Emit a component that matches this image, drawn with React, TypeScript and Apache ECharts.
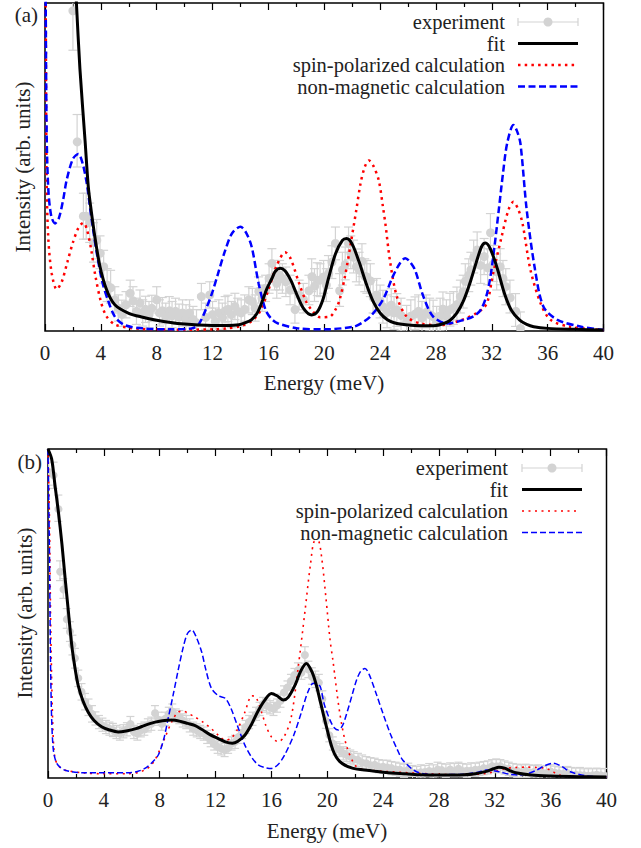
import React, { useEffect, useRef } from "react";
import * as echarts from "echarts";

// ---------------- DATA ----------------
const legendLabels = ["experiment", "fit", "spin-polarized calculation", "non-magnetic calculation"];
const xTitle = "Energy (meV)";
const yTitle = "Intensity (arb. units)";
const panelLabels = ["(a)", "(b)"];

// Panel (a): experiment [E, I, err]
const expA = [
  [2.0, 97.6, 12], [2.3, 58, 8], [2.75, 35, 7], [2.95, 35, 7], [3.2, 33, 6], [3.47, 27, 6], [3.7, 28, 6],
  [3.94, 24, 5], [4.2, 19.6, 5], [4.45, 14, 5], [4.7, 13.5, 5], [5.0, 9.5, 4], [5.25, 7, 4], [5.5, 5.4, 4],
  [5.8, 8, 4], [6.1, 11.5, 4], [6.3, 9.5, 4], [6.55, 6, 4], [6.8, 8.5, 4], [7.0, 5.5, 4], [7.2, 6.6, 4],
  [7.45, 5, 4], [7.65, 6.9, 4], [8.0, 9.5, 4], [8.2, 5.5, 4], [8.4, 6.2, 4], [8.65, 4.5, 4], [8.9, 6.5, 4],
  [9.1, 5, 4], [9.35, 6, 4], [9.6, 4.2, 4], [9.85, 5.5, 4], [10.1, 4, 4], [10.35, 5.5, 4], [10.6, 3.5, 4],
  [10.85, 2.5, 4], [11.2, 10.5, 4], [11.5, 4.5, 4], [11.8, 11, 4], [12.0, 5, 4], [12.2, 3, 4], [12.45, 5.5, 4],
  [12.7, 4.5, 4], [12.9, 6.5, 4], [13.1, 6.9, 4], [13.35, 5, 4], [13.6, 7.5, 4], [13.8, 6, 4], [14.05, 5.5, 4],
  [14.3, 7, 4], [14.6, 9.5, 4], [14.85, 9, 4], [15.05, 7, 4], [15.3, 12.5, 4], [15.55, 10, 4], [15.8, 13, 4],
  [16.05, 16, 4.5], [16.25, 20.6, 4.5], [16.45, 17, 4.5], [16.6, 14.5, 4.5], [16.8, 17, 4.5], [17.0, 16, 4.5],
  [17.25, 15, 4.5], [17.55, 12.5, 4.5], [17.9, 6.9, 4.5], [18.2, 11, 4.5], [18.5, 10, 4.5], [18.9, 12.5, 4.5],
  [19.1, 17, 5], [19.3, 14, 5], [19.5, 15.8, 5], [19.7, 15.5, 5], [19.95, 16.5, 5], [20.15, 14, 5], [20.3, 18, 5],
  [20.55, 21, 5], [20.8, 26.7, 5], [21.1, 12.5, 5], [21.3, 19, 5], [21.5, 20.6, 5], [21.74, 26.7, 5], [21.9, 24, 5],
  [22.1, 22.7, 5], [22.3, 20, 5], [22.5, 19, 5], [22.7, 21.6, 5], [22.9, 17, 5], [23.05, 16.5, 5], [23.3, 15.5, 5],
  [23.5, 10.5, 5], [23.75, 11, 5], [24.0, 9, 5], [24.2, 7.4, 5], [24.5, 6, 5], [24.8, 7.9, 5], [25.0, 5.5, 5],
  [25.2, 6.4, 5], [25.5, 5, 5], [25.9, 2.8, 5], [26.2, 4.5, 5], [26.5, 5.4, 5], [26.75, 6, 5], [27.0, 4, 5],
  [27.3, 6, 5], [27.55, 5, 5], [27.8, 4.4, 5], [28.05, 2.5, 5], [28.3, 5, 5], [28.5, 6.9, 5], [28.75, 4.5, 5],
  [29.0, 6.5, 5], [29.25, 7, 5], [29.5, 8.4, 5], [29.75, 10.5, 5], [29.95, 12, 5], [30.1, 15.5, 5], [30.35, 17, 5],
  [30.5, 19, 5], [30.7, 22.7, 5], [30.95, 24.7, 5.5], [31.2, 20, 5.5], [31.45, 22.7, 5.5], [31.7, 19.6, 5.5],
  [31.9, 30.3, 5.5], [32.1, 20.6, 5.5], [32.35, 18, 5.5], [32.6, 19.6, 5.5], [32.8, 16, 5.5], [33.0, 13.5, 5.5],
  [33.3, 10.5, 5], [33.7, 6.4, 5], [34.05, 0.8, 5],
];

const fitA = [
  [1.5, 175], [1.8, 140], [2.0, 120], [2.25, 100], [2.5, 80], [2.87, 58], [3.1, 44], [3.3, 37], [3.58, 28.5],
  [3.94, 19.6], [4.42, 12.5], [5.0, 8], [6.0, 5.4], [7.0, 4.2], [8.0, 3.3], [9.0, 2.6], [10.0, 2.1], [11.0, 1.8],
  [12.0, 1.7], [13.0, 1.7], [13.9, 1.9], [14.4, 2.6], [14.8, 3.5], [15.2, 5.5], [15.5, 8.4], [15.9, 13],
  [16.25, 16], [16.5, 18.2], [16.85, 19.1], [17.2, 18.3], [17.6, 15.5], [18.0, 11.5], [18.5, 7], [19.1, 4.9],
  [19.5, 5.8], [19.9, 9.5], [20.3, 16], [20.8, 23.5], [21.3, 27.6], [21.6, 28.2], [22.0, 26.5], [22.5, 21],
  [23.0, 14.5], [23.5, 9], [24.0, 5.5], [24.5, 3.5], [25.0, 2.5], [26.0, 1.8], [27.0, 1.6], [28.0, 1.7],
  [28.5, 2.2], [29.0, 3.2], [29.5, 5.5], [30.0, 9.5], [30.5, 15.5], [31.0, 22.5], [31.3, 26], [31.55, 26.8],
  [31.9, 25], [32.4, 19], [32.9, 11.5], [33.4, 6.3], [34.0, 3.3], [34.5, 2.0], [35.0, 1.3], [36.0, 0.8],
  [38.0, 0.5], [40.0, 0.3],
];

const spinA = [
  [0, 130], [0.05, 100], [0.12, 45], [0.24, 28], [0.48, 17.6], [0.84, 12.7], [1.2, 15], [1.6, 21], [2.0, 27],
  [2.4, 31.5], [2.75, 33], [3.0, 31], [3.3, 25], [3.6, 17], [4.0, 9], [4.4, 4.5], [5.0, 2], [6.0, 1], [7.0, 0.6],
  [8.0, 0.5], [10.0, 0.4], [12.0, 0.5], [13.0, 0.8], [14.0, 1.5], [14.8, 3], [15.4, 6], [16.0, 12.5],
  [16.6, 20], [17.2, 24], [17.6, 22], [18.2, 14.5], [18.7, 9], [19.1, 6.4], [19.7, 4.2], [20.4, 4.4],
  [20.8, 6.5], [21.1, 9.5], [21.5, 17], [21.9, 26.7], [22.3, 37], [22.6, 45], [22.9, 50], [23.2, 52],
  [23.5, 50.5], [23.9, 46], [24.2, 38], [24.4, 32], [24.7, 21.6], [25.2, 10.5], [25.9, 4.4], [26.9, 2.3],
  [28.3, 1.8], [29.75, 3.2], [30.9, 5.4], [31.4, 7], [31.7, 9], [32.1, 17.6], [32.7, 28.7], [33.2, 37],
  [33.55, 39.4], [33.9, 37], [34.2, 32.8], [34.77, 18.6], [35.5, 8.4], [36.2, 3.4], [37.6, 1.3], [40.0, 0.3],
];

const nonMagA = [
  [0, 130], [0.05, 100], [0.12, 60], [0.24, 43], [0.45, 35], [0.72, 32.8], [1.0, 34.5], [1.3, 40], [1.55, 46],
  [2.0, 52.5], [2.39, 54], [2.7, 51], [2.99, 45], [3.34, 34], [3.7, 24], [4.1, 15], [4.5, 9.5], [5.0, 4.4],
  [5.7, 1.8], [7.0, 0.8], [9.0, 0.5], [10.5, 0.8], [11.0, 2], [11.5, 6.4], [12.0, 12], [12.4, 17.6],
  [12.9, 24.5], [13.4, 29.8], [14.0, 31.8], [14.4, 30], [14.8, 25.7], [15.3, 14.5], [15.8, 6.4], [16.2, 3.8],
  [16.7, 2.3], [18.1, 0.8], [20.0, 0.5], [22.1, 1.3], [22.7, 2.5], [23.3, 4.4], [24.2, 9.5], [24.9, 16.5],
  [25.4, 20.5], [25.8, 22.2], [26.1, 21.3], [26.5, 18.6], [27.1, 10.5], [27.8, 4.4], [28.8, 2.3], [30.0, 3.4],
  [30.7, 4.5], [31.2, 6.4], [31.6, 10.5], [31.9, 16.5], [32.2, 26], [32.5, 36.9], [32.8, 48], [33.1, 57.2],
  [33.55, 62.8], [33.8, 61], [34.05, 57.2], [34.5, 36.9], [35.1, 18.6], [35.7, 7.4], [36.7, 3.4], [38.4, 1.3],
  [40.0, 0.3],
];

// Panel (b)
const expB = [
  [0.05, 93, 4], [0.4, 92, 4], [0.74, 82, 4], [0.86, 63, 3], [1.1, 57.6, 3], [1.34, 48.5, 3], [1.57, 44.5, 3],
  [1.75, 40.4, 3], [1.93, 36.4, 3], [2.17, 30.3, 2.5], [2.4, 26.2, 2.5], [2.65, 23.2, 2.5], [2.9, 21.5, 2.5],
  [3.15, 19.5, 2.5], [3.4, 18.1, 2], [3.65, 17, 2], [3.9, 16.2, 2], [4.15, 15.5, 2], [4.4, 15, 2], [4.65, 14.6, 2],
  [4.9, 14, 2], [5.15, 13.5, 2], [5.4, 14.2, 2], [5.65, 14.8, 2], [5.9, 16.7, 2], [6.15, 14, 2], [6.4, 13.5, 2],
  [6.65, 14.5, 2], [6.9, 15, 2], [7.15, 16, 2], [7.4, 16.5, 2], [7.66, 20, 2], [7.9, 18, 2], [8.15, 16.5, 2],
  [8.4, 18, 2], [8.65, 19.5, 2], [8.9, 20.5, 2], [9.15, 19, 2], [9.4, 18.5, 2], [9.65, 17.5, 2], [9.9, 17, 2],
  [10.15, 16, 2], [10.4, 15, 2], [10.65, 14.5, 2], [10.9, 14, 2], [11.15, 13.5, 2], [11.4, 12.5, 2],
  [11.65, 11.5, 2], [11.9, 10.5, 2], [12.15, 9.5, 2], [12.4, 9, 2], [12.65, 8.5, 2], [12.9, 9.5, 2],
  [13.15, 10.5, 2], [13.4, 11, 2], [13.65, 12.5, 2], [13.9, 14, 2], [14.15, 15.5, 2], [14.4, 17, 2],
  [14.65, 18, 2], [14.9, 19.5, 2], [15.15, 21, 2], [15.4, 22.5, 2], [15.65, 22, 2], [15.9, 21.5, 2],
  [16.15, 21, 2], [16.4, 22, 2], [16.65, 23.5, 2], [16.9, 26, 2], [17.15, 27.5, 2], [17.4, 29.5, 2],
  [17.65, 31.3, 2], [17.9, 33, 2], [18.15, 32, 2], [18.4, 37.4, 2.5], [18.65, 33, 2.5], [18.9, 31, 2.5],
  [19.15, 30, 2.5], [19.4, 29, 2.5], [19.65, 24, 2.5], [19.9, 17.6, 2.5], [20.15, 13, 2], [20.4, 10.5, 2],
  [20.65, 9, 2], [20.9, 8.5, 2], [21.15, 7.5, 2], [21.4, 7, 2], [21.65, 6.5, 2], [21.9, 6, 2], [22.2, 5.5, 2],
  [22.5, 5, 2], [22.8, 4.5, 2], [23.1, 4.2, 2], [23.4, 4, 2], [23.7, 3.6, 2], [24.0, 3.4, 2], [24.3, 3.4, 2],
  [24.6, 3, 2], [24.9, 2.8, 2], [25.2, 2.5, 2], [25.5, 2.2, 2], [25.8, 2.5, 2], [26.1, 1.8, 2], [26.4, 1.5, 2],
  [26.7, 2, 2], [27.0, 1.8, 2], [27.3, 2.4, 2], [27.6, 2.0, 2], [27.9, 2.8, 2], [28.2, 2.4, 2], [28.5, 2.2, 2],
  [28.8, 2.6, 2], [29.1, 2.4, 2], [29.4, 2.8, 2], [29.7, 2.4, 2], [30.0, 2.2, 2], [30.3, 2.6, 2], [30.6, 2.5, 2],
  [30.9, 2.8, 2], [31.2, 3, 2], [31.5, 3.2, 2], [31.8, 3.6, 2], [32.1, 3.8, 2], [32.4, 3.6, 2], [32.7, 3.2, 2],
  [33.0, 2.8, 2], [33.3, 2.4, 2], [33.6, 2.2, 2], [33.9, 2, 2], [34.2, 2.2, 2], [34.5, 2, 2], [34.8, 1.8, 2],
  [35.1, 2, 2], [35.4, 1.6, 2], [35.7, 1.8, 2], [36.0, 2, 2], [36.3, 1.6, 2], [36.6, 1.4, 2], [36.9, 1.2, 2],
  [37.2, 1.5, 2], [37.5, 1.2, 2], [37.8, 1.0, 2], [38.1, 1.2, 2], [38.4, 0.8, 2], [38.7, 1, 2], [39.0, 0.8, 2],
  [39.3, 1, 2], [39.6, 0.8, 2], [39.9, 0.9, 2],
];

const fitB = [
  [0, 100], [0.26, 97], [0.5, 89], [0.74, 81], [1.0, 71], [1.22, 61], [1.45, 51], [1.7, 40.4], [1.95, 33],
  [2.17, 28], [2.5, 23.5], [2.88, 20], [3.3, 17.5], [3.84, 15.6], [4.4, 14.6], [5.03, 14], [5.6, 14.3],
  [6.3, 15], [6.94, 16], [7.6, 16.9], [8.2, 17.4], [8.85, 17.6], [9.5, 17.2], [10.0, 16.6], [10.5, 16],
  [11.0, 14.8], [11.6, 13.2], [12.2, 12], [12.7, 11], [13.2, 10.6], [13.6, 11.2], [14.1, 13], [14.6, 16.5],
  [15.0, 20], [15.5, 23.5], [16.0, 25.7], [16.4, 25], [16.85, 23.7], [17.2, 24.5], [17.7, 28.3], [18.1, 32.5],
  [18.5, 34.8], [18.9, 32.3], [19.2, 28.5], [19.46, 24], [19.94, 15.6], [20.4, 8.5], [20.9, 5], [21.8, 3],
  [23.0, 2.3], [24.2, 1.7], [25.5, 1.3], [26.6, 1.0], [28.0, 0.9], [29.8, 1.0], [30.6, 1.3], [31.4, 2.0],
  [31.9, 2.8], [32.3, 3.3], [32.7, 3.0], [33.1, 2.2], [33.5, 1.6], [34.6, 0.9], [36.0, 0.6], [38.0, 0.4],
  [40.0, 0.3],
];

const spinB = [
  [0, 100], [0.1, 80], [0.2, 45], [0.35, 15], [0.5, 6], [0.8, 3.5], [1.2, 2.4], [2.6, 1.5], [4.0, 1.3],
  [5.7, 1.3], [6.5, 1.7], [6.94, 2.5], [7.3, 3.5], [7.66, 5.5], [8.0, 8.5], [8.4, 12.5], [8.85, 17], [9.3, 20],
  [9.7, 20.3], [10.1, 19.5], [10.5, 18.6], [11.1, 17], [11.7, 15], [12.2, 13], [12.7, 11.5], [13.1, 12],
  [13.6, 15], [14.1, 20], [14.6, 25], [14.9, 24.5], [15.3, 20], [15.6, 16], [16.0, 12.5], [16.5, 11],
  [16.9, 12.5], [17.4, 18], [17.9, 33], [18.4, 50.5], [18.8, 65], [19.1, 72], [19.35, 72], [19.6, 67],
  [19.9, 55], [20.2, 42], [20.4, 35.9], [20.9, 19.7], [21.4, 9.5], [22.1, 3.4], [23.0, 2.4], [24.2, 2],
  [26.6, 1.4], [29.2, 1], [30.5, 1.1], [31.4, 1.4], [32.2, 2.2], [32.8, 2.9], [33.5, 3.2], [34.3, 3.3],
  [35.0, 3.2], [35.7, 2.9], [36.2, 1.8], [36.6, 0.9], [38.0, 0.5], [40.0, 0.3],
];

const nonMagB = [
  [0, 100], [0.1, 70], [0.2, 30], [0.35, 10], [0.62, 4.5], [1.2, 2.4], [2.6, 1.6], [5.7, 1.6], [6.4, 2],
  [6.94, 2.9], [7.4, 4.5], [7.9, 7], [8.3, 12], [8.6, 18], [9.0, 26], [9.3, 32.3], [9.7, 40], [10.0, 44],
  [10.3, 45], [10.6, 43], [11.0, 38.4], [11.3, 33], [11.7, 27.3], [12.2, 25], [12.7, 24.2], [13.1, 21.2],
  [13.6, 15.5], [14.1, 10], [14.6, 6.2], [15.05, 4], [15.5, 3.2], [16.0, 2.9], [16.5, 4.2], [16.95, 7],
  [17.6, 13], [18.15, 20], [18.6, 26], [19.0, 28.8], [19.3, 28.5], [19.5, 27.8], [19.8, 22.2], [20.2, 17.6],
  [20.5, 15.3], [20.8, 14.6], [21.1, 16], [21.4, 19.7], [21.8, 25.5], [22.1, 29.8], [22.4, 32.5], [22.7, 33.3],
  [23.0, 31.5], [23.5, 25.7], [24.0, 19.5], [24.5, 13.6], [25.0, 8.8], [25.4, 5.5], [26.4, 1.9], [27.9, 1],
  [29.9, 1.2], [30.7, 1.7], [31.4, 2.4], [32.3, 1.9], [33.0, 1.2], [33.8, 0.9], [34.4, 1.4], [35.0, 2.4],
  [35.6, 3.8], [36.2, 4.5], [36.8, 3.5], [37.4, 1.9], [38.6, 0.6], [40.0, 0.3],
];

// ---------------- STYLE ----------------
const FONT = "Liberation Serif";
const TEXT = "#222";
const GRAY = "#d3d3d3";
const FS = 21;
const LEG_FS = 20.5;

const grids = [
  { left: 45, top: 3, width: 558.5, height: 328 },
  { left: 48, top: 449, width: 558.5, height: 329 },
];

export default function App() {
  const ref = useRef<HTMLDivElement>(null);

  useEffect(() => {
    document.body.style.margin = "0";
    const chart = echarts.init(ref.current!, null, { renderer: "svg" });

    const txt = (text: string, x: number, y: number, align: string, size: number, extra: any = {}) => ({
      type: "text",
      x,
      y,
      ...extra,
      style: { text, fontSize: size, fontFamily: FONT, fill: TEXT, align, verticalAlign: "middle" },
    });

    const mkX = (gi: number, position: string, labels: boolean) => ({
      type: "value",
      gridIndex: gi,
      position,
      min: 0,
      max: 40,
      interval: 4,
      axisLine: { show: false },
      axisTick: { show: true, inside: true, length: 7, lineStyle: { color: "#000", width: 1.2 } },
      minorTick: { show: true, splitNumber: 2, length: 4, lineStyle: { color: "#000", width: 1.2 } },
      splitLine: { show: false },
      minorSplitLine: { show: false },
      axisLabel: {
        show: labels,
        margin: 11,
        fontSize: FS,
        fontFamily: FONT,
        color: TEXT,
        showMinLabel: true,
        showMaxLabel: true,
      },
    });
    const mkY = (gi: number) => ({
      type: "value",
      gridIndex: gi,
      min: 0,
      max: 100,
      axisLine: { show: false },
      axisTick: { show: false },
      axisLabel: { show: false },
      splitLine: { show: false },
    });

    const errRender = (r: number, cap: number) => (params: any, api: any) => {
      const x = api.value(0);
      const y = api.value(1);
      const e = api.value(2);
      const c = api.coord([x, y]);
      const t = api.coord([x, y + e]);
      const b = api.coord([x, y - e]);
      const st = { stroke: GRAY, lineWidth: 1.2 };
      return {
        type: "group",
        children: [
          { type: "line", shape: { x1: c[0], y1: t[1], x2: c[0], y2: b[1] }, style: st },
          { type: "line", shape: { x1: c[0] - cap, y1: t[1], x2: c[0] + cap, y2: t[1] }, style: st },
          { type: "line", shape: { x1: c[0] - cap, y1: b[1], x2: c[0] + cap, y2: b[1] }, style: st },
          { type: "circle", shape: { cx: c[0], cy: c[1], r }, style: { fill: GRAY } },
        ],
      };
    };

    const lineSeries = (data: number[][], gi: number, color: string, width: number, type: any) => ({
      type: "line",
      xAxisIndex: gi * 2,
      yAxisIndex: gi,
      data,
      showSymbol: false,
      symbol: "none",
      smooth: 0.3,
      clip: true,
      lineStyle: { color, width, type, cap: "butt" },
      silent: true,
    });

    const legendGraphic = (rightX: number, ys: number[], x1: number, x2: number, thick: boolean) => {
      const els: any[] = legendLabels.map((t, i) => txt(t, rightX, ys[i], "right", LEG_FS));
      const gs = { stroke: GRAY, lineWidth: 1.2 };
      els.push({ type: "line", shape: { x1, y1: ys[0], x2, y2: ys[0] }, style: gs });
      els.push({ type: "line", shape: { x1, y1: ys[0] - 4, x2: x1, y2: ys[0] + 4 }, style: gs });
      els.push({ type: "line", shape: { x1: x2, y1: ys[0] - 4, x2, y2: ys[0] + 4 }, style: gs });
      els.push({ type: "circle", shape: { cx: (x1 + x2) / 2, cy: ys[0], r: 4.5 }, style: { fill: GRAY } });
      els.push({ type: "line", shape: { x1, y1: ys[1], x2, y2: ys[1] }, style: { stroke: "#000", lineWidth: 3 } });
      els.push({
        type: "line",
        shape: { x1, y1: ys[2], x2: x2 - 3, y2: ys[2] },
        style: { stroke: "red", lineWidth: thick ? 2.5 : 1.6, lineDash: thick ? [2.5, 4.2] : [2, 4.5] },
      });
      els.push({
        type: "line",
        shape: { x1, y1: ys[3], x2, y2: ys[3] },
        style: { stroke: "blue", lineWidth: thick ? 2.5 : 1.5, lineDash: thick ? [7, 3.5] : [6, 3] },
      });
      return els;
    };

    const option: any = {
      animation: false,
      grid: grids.map((g) => ({ ...g, show: true, borderColor: "#000", borderWidth: 1.5, backgroundColor: "transparent" })),
      xAxis: [mkX(0, "bottom", true), mkX(0, "top", false), mkX(1, "bottom", true), mkX(1, "top", false)],
      yAxis: [mkY(0), mkY(1)],
      series: [
        {
          type: "custom",
          xAxisIndex: 0,
          yAxisIndex: 0,
          data: expA,
          encode: { x: 0, y: 1 },
          clip: true,
          silent: true,
          renderItem: errRender(4.5, 4.5),
        },
        lineSeries(spinA, 0, "red", 2.5, [2.5, 4.2]),
        lineSeries(nonMagA, 0, "blue", 2.5, [7, 3.5]),
        lineSeries(fitA, 0, "#000", 3, "solid"),
        {
          type: "custom",
          xAxisIndex: 2,
          yAxisIndex: 1,
          data: expB,
          encode: { x: 0, y: 1 },
          clip: true,
          silent: true,
          renderItem: errRender(4, 4),
        },
        lineSeries(spinB, 1, "red", 1.6, [2, 4.5]),
        lineSeries(nonMagB, 1, "blue", 1.5, [6, 3]),
        lineSeries(fitB, 1, "#000", 3, "solid"),
      ],
      graphic: [
        txt(panelLabels[0], 38, 15, "right", FS),
        txt(panelLabels[1], 42, 462, "right", FS),
        txt(yTitle, 23, 167, "center", FS, { rotation: Math.PI / 2 }),
        txt(yTitle, 25, 613, "center", FS, { rotation: Math.PI / 2 }),
        txt(xTitle, 324, 383, "center", FS),
        txt(xTitle, 327, 831, "center", FS),
        ...legendGraphic(505, [22, 43.5, 65, 86.5], 518, 578, true),
        ...legendGraphic(508, [468, 489.5, 511, 532.5], 522, 582, false),
      ],
    };

    chart.setOption(option);
    return () => chart.dispose();
  }, []);

  return <div ref={ref} style={{ width: 641, height: 848 }} />;
}
